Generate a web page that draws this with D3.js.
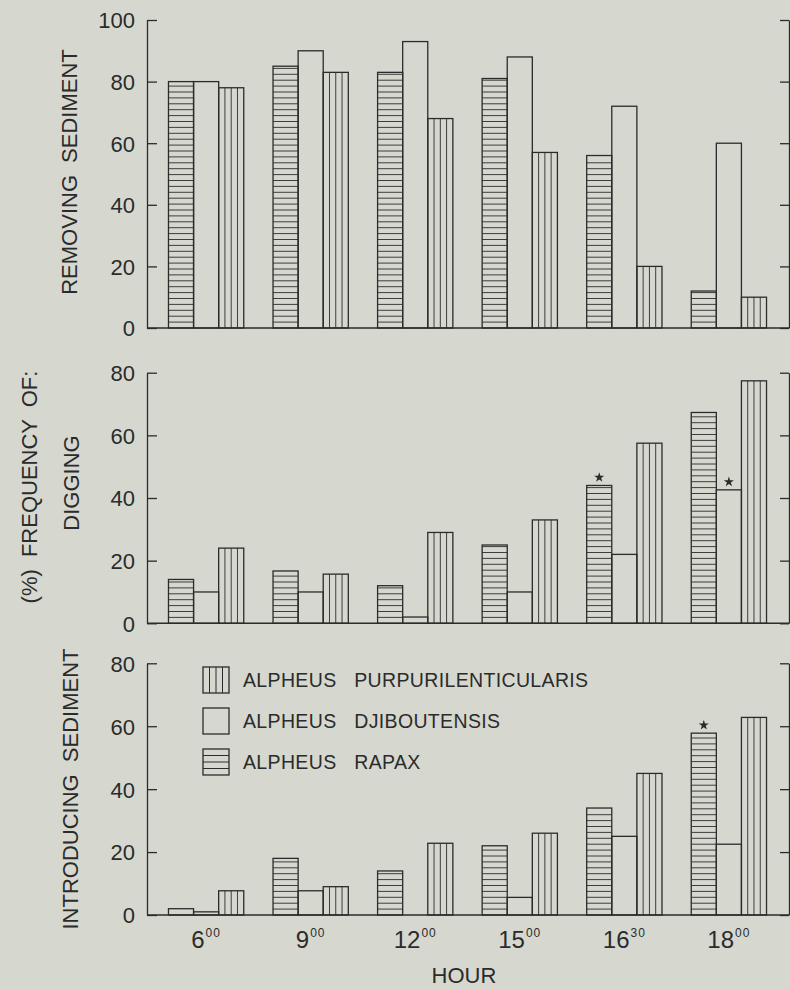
<!DOCTYPE html>
<html>
<head>
<meta charset="utf-8">
<script src="https://cdn.jsdelivr.net/npm/d3@7"></script>
<style>
html,body{margin:0;padding:0;background:#d6d8d0;}
svg{display:block;}
text{font-family:"Liberation Sans",Arial,sans-serif;fill:#2b2b2b;}
</style>
</head>
<body>
<svg id="chart" width="790" height="990"></svg>
<script>
// ---------- DATA ----------
const hours = ["6:00", "9:00", "12:00", "15:00", "16:30", "18:00"];
const species = ["rapax", "djiboutensis", "purpurilenticularis"];
const legendLabels = ["ALPHEUS PURPURILENTICULARIS", "ALPHEUS DJIBOUTENSIS", "ALPHEUS RAPAX"];
const legendKeys = ["purpurilenticularis", "djiboutensis", "rapax"];

const removingRapax = [80, 85, 83, 81, 56, 12];
const removingDjib  = [80, 90, 93, 88, 72, 60];
const removingPurp  = [78, 83, 68, 57, 20, 10];

const diggingRapax = [14, 16.7, 12, 25, 44, 67.3];
const diggingDjib  = [10, 10, 2, 10, 22, 42.6];
const diggingPurp  = [24, 15.7, 29, 33, 57.5, 77.4];

const introRapax = [2, 18, 14, 22, 34, 57.8];
const introDjib  = [1, 7.7, 0, 5.6, 25, 22.5];
const introPurp  = [7.7, 9, 22.8, 26, 45, 62.8];

const removingTicks = [0, 20, 40, 60, 80, 100];
const otherTicks = [0, 20, 40, 60, 80];

const stars = [
  {panel: "digging", hour: "16:30", sp: "rapax"},
  {panel: "digging", hour: "18:00", sp: "djiboutensis"},
  {panel: "introducing", hour: "18:00", sp: "rapax"}
];

// ---------- LAYOUT ----------
const ink = "#2b2b2b";
const svg = d3.select("#chart");
const xLeft = 147, xRight = 789;

const x = d3.scaleBand().domain(hours).range([146, 789]).paddingInner(0.28).paddingOuter(0.215);
const xs = d3.scaleBand().domain(species).range([0, x.bandwidth()]).padding(0);

const panels = [
  {key: "removing", max: 100, top: 20, bottom: 328, ticks: removingTicks,
   values: {rapax: removingRapax, djiboutensis: removingDjib, purpurilenticularis: removingPurp}},
  {key: "digging", max: 80, top: 372.7, bottom: 623.3, ticks: otherTicks,
   values: {rapax: diggingRapax, djiboutensis: diggingDjib, purpurilenticularis: diggingPurp}},
  {key: "introducing", max: 80, top: 663.3, bottom: 915, ticks: otherTicks,
   values: {rapax: introRapax, djiboutensis: introDjib, purpurilenticularis: introPurp}}
];

panels.forEach(p => {
  p.y = d3.scaleLinear().domain([0, p.max]).range([p.bottom, p.top]);
  const g = svg.append("g");

  // bars
  const rows = [];
  hours.forEach((h, i) => species.forEach(s => rows.push({h, s, v: p.values[s][i]})));
  const bars = g.append("g").selectAll("g.bar").data(rows).join("g").attr("class", "bar");
  bars.each(function(d) {
    const sel = d3.select(this);
    const bx = x(d.h) + xs(d.s), bw = xs.bandwidth();
    const yt = p.y(d.v), yb = p.y(0);
    if (d.v <= 0) return;
    if (d.s === "rapax") {
      const step = 5.9;
      const lines = d3.range(yb - step, yt + 1.5, -step);
      sel.selectAll("line.h").data(lines).join("line").attr("class", "h")
        .attr("x1", bx).attr("x2", bx + bw).attr("y1", v => v).attr("y2", v => v)
        .attr("stroke", ink).attr("stroke-width", 0.9);
    }
    if (d.s === "purpurilenticularis") {
      sel.selectAll("line.v").data([1, 2, 3]).join("line").attr("class", "v")
        .attr("x1", k => bx + bw * k / 4).attr("x2", k => bx + bw * k / 4)
        .attr("y1", yt).attr("y2", yb)
        .attr("stroke", ink).attr("stroke-width", 0.9);
    }
    sel.append("rect").attr("x", bx).attr("y", yt).attr("width", bw).attr("height", yb - yt)
      .attr("fill", "none").attr("stroke", ink).attr("stroke-width", 1.3);
  });

  // left axis (ticks inward)
  const yl = g.append("g").attr("transform", `translate(${xLeft},0)`)
    .call(d3.axisLeft(p.y).tickValues(p.ticks).tickSizeInner(-10).tickSizeOuter(0).tickPadding(12).tickFormat(d3.format("d")));
  yl.select(".domain").attr("stroke", ink).attr("stroke-width", 1.3);
  yl.selectAll(".tick line").attr("stroke", ink).attr("stroke-width", 1.3);
  yl.selectAll(".tick text").attr("font-size", 22).attr("fill", ink)
    .attr("font-family", "'Liberation Sans', Arial, sans-serif").attr("dy", "0.36em");

  // right axis (ticks inward)
  const yr = g.append("g").attr("transform", `translate(${xRight},0)`)
    .call(d3.axisRight(p.y).tickValues(p.ticks).tickSizeInner(-9).tickSizeOuter(0).tickFormat(""));
  yr.select(".domain").attr("stroke", ink).attr("stroke-width", 1.3);
  yr.selectAll(".tick line").attr("stroke", ink).attr("stroke-width", 1.3);

  // baseline / x axis
  const xa = g.append("g").attr("transform", `translate(0,${p.bottom})`)
    .call(d3.axisBottom(x).tickSize(0).tickPadding(16).tickFormat(""));
  xa.select(".domain").attr("stroke", ink).attr("stroke-width", 1.4).attr("d", `M${xLeft},0H${xRight}`);
  if (p.key === "introducing") {
    xa.selectAll(".tick text").each(function(h) {
      const [hh, mm] = h.split(":");
      const t = d3.select(this).text(null).attr("font-size", 24).attr("fill", ink)
        .attr("font-family", "'Liberation Sans', Arial, sans-serif").attr("dy", "0.71em");
      t.append("tspan").text(hh);
      t.append("tspan").text(mm).attr("font-size", 12).attr("dy", "-0.95em").attr("dx", 1).attr("letter-spacing", 1);
    });
  }
});

// stars
const starSym = d3.symbol().type(d3.symbolStar).size(32);
svg.append("g").selectAll("path").data(stars).join("path")
  .attr("d", starSym)
  .attr("fill", ink)
  .attr("transform", d => {
    const p = panels.find(q => q.key === d.panel);
    const i = hours.indexOf(d.hour);
    const v = p.values[d.sp][i];
    return `translate(${x(d.hour) + xs(d.sp) + xs.bandwidth() / 2},${p.y(v) - 8})`;
  });

// legend
const lg = svg.append("g").selectAll("g").data(legendKeys).join("g")
  .attr("transform", (d, i) => `translate(203,${667 + i * 41})`);
lg.append("rect").attr("width", 26).attr("height", 26).attr("fill", "none").attr("stroke", ink).attr("stroke-width", 1.3);
lg.filter(d => d === "purpurilenticularis").selectAll("line").data([1, 2, 3]).join("line")
  .attr("x1", k => 26 * k / 4).attr("x2", k => 26 * k / 4).attr("y1", 0).attr("y2", 26)
  .attr("stroke", ink).attr("stroke-width", 1);
lg.filter(d => d === "rapax").selectAll("line").data([1, 2, 3]).join("line")
  .attr("y1", k => 26 * k / 4).attr("y2", k => 26 * k / 4).attr("x1", 0).attr("x2", 26)
  .attr("stroke", ink).attr("stroke-width", 1);
lg.append("text").attr("x", 40).attr("y", 20).attr("font-size", 19.5).attr("letter-spacing", 0.35)
  .attr("word-spacing", 12).text((d, i) => legendLabels[i]);

// axis titles
function vtitle(txt, cx, cy, size) {
  svg.append("text").attr("transform", `translate(${cx},${cy}) rotate(-90)`)
    .attr("text-anchor", "middle").attr("dy", "0.36em").attr("font-size", size)
    .attr("word-spacing", 6).text(txt);
}
vtitle("REMOVING SEDIMENT", 69, 172, 22);
vtitle("DIGGING", 71, 483, 22);
vtitle("INTRODUCING SEDIMENT", 70, 789, 22);
vtitle("(%) FREQUENCY OF:", 29, 487, 22);

svg.append("text").attr("x", 464).attr("y", 983).attr("text-anchor", "middle").attr("font-size", 22).text("HOUR");
</script>
</body>
</html>
